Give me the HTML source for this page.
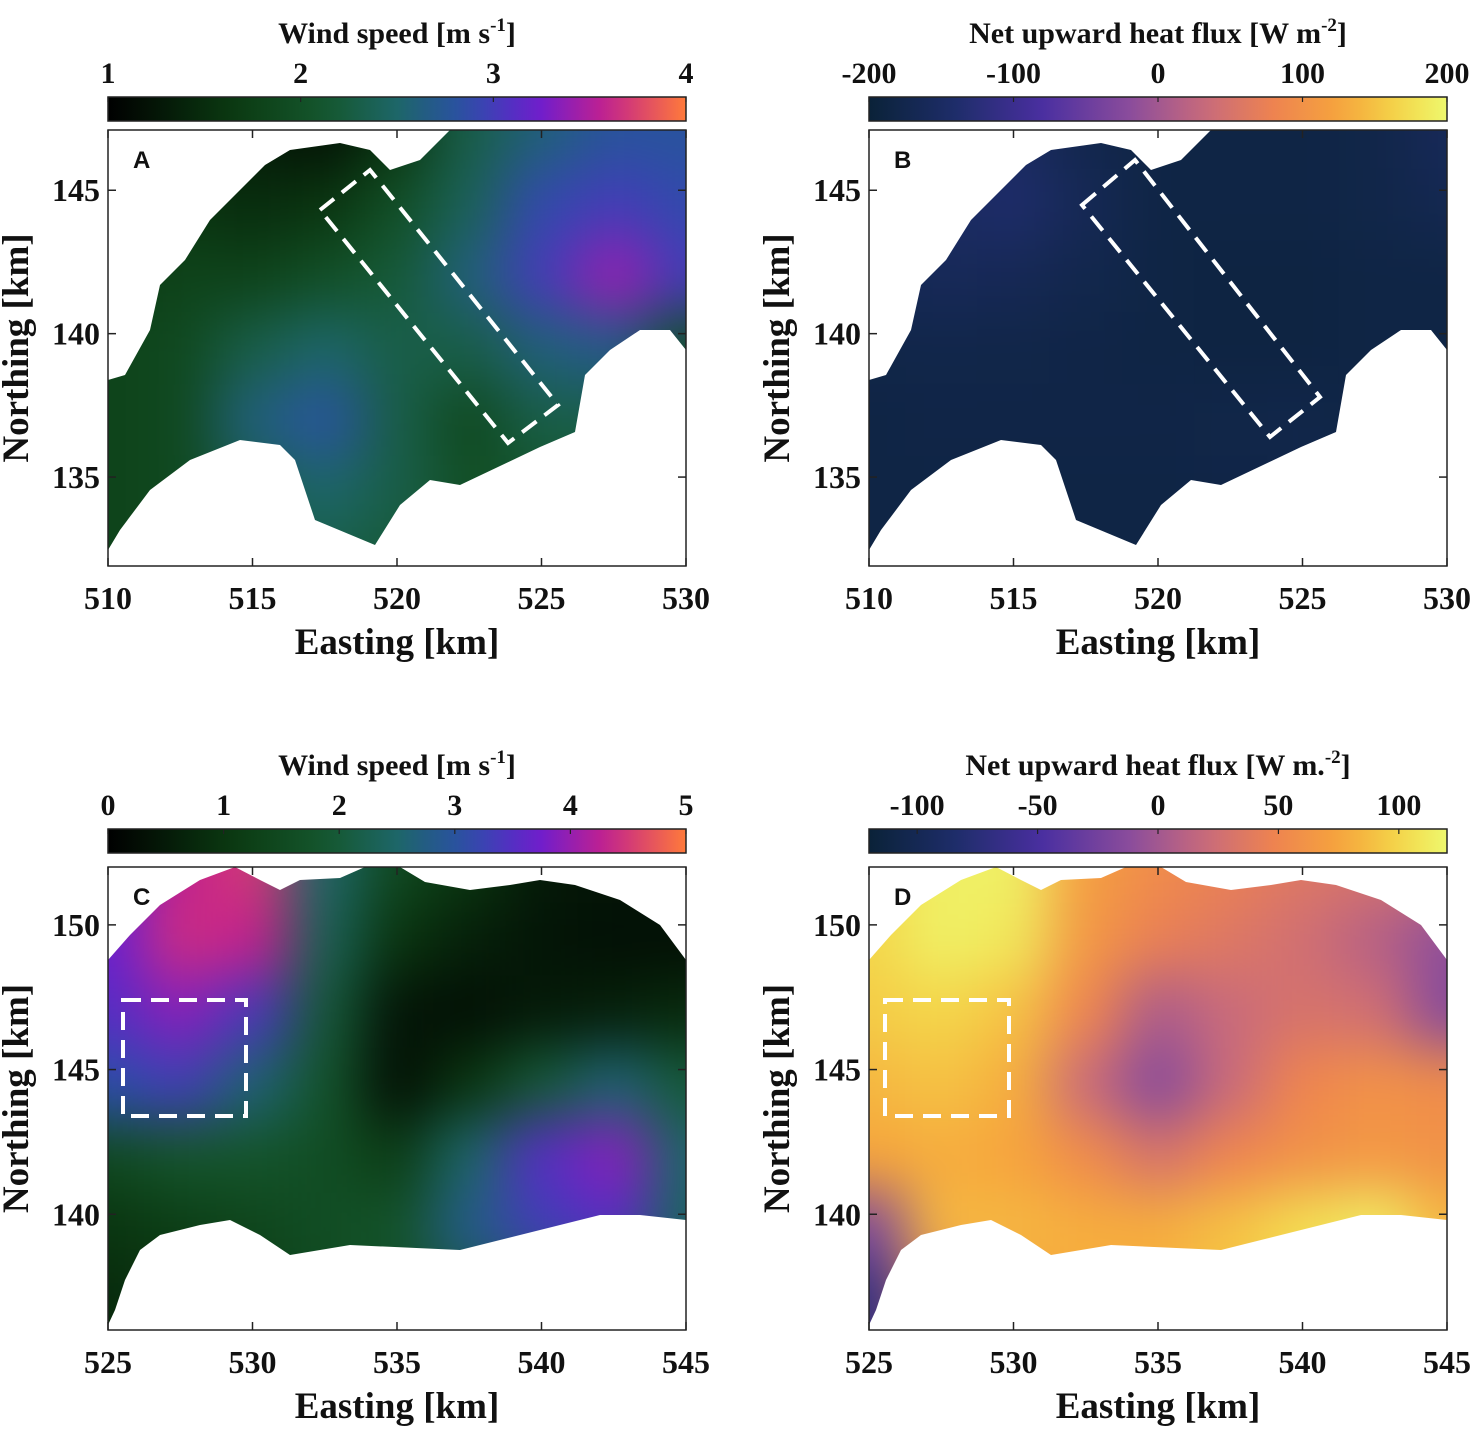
<!DOCTYPE html>
<html><head><meta charset="utf-8">
<style>
body{margin:0;background:#fff;}
svg text{font-family:"Liberation Serif",serif;font-weight:bold;fill:#111;}
</style></head>
<body>
<svg id="fig" width="1476" height="1431" viewBox="0 0 1476 1431" xmlns="http://www.w3.org/2000/svg">
<defs>
<filter id="blur" x="-20%" y="-20%" width="140%" height="140%" color-interpolation-filters="sRGB"><feGaussianBlur stdDeviation="28"/></filter>
</defs>
</svg>
<script>
// ---------- data ----------
const windA = [
 [1.5,1.4,1.3,1.2,1.6,2.3,2.6,2.8,2.8],
 [1.6,1.6,1.5,1.6,2.0,2.4,2.9,3.0,2.9],
 [1.7,1.8,1.8,2.0,2.2,2.6,3.0,3.4,3.0],
 [1.8,1.9,2.3,2.5,2.3,2.3,2.6,2.7,2.0],
 [1.8,1.9,2.6,2.8,2.3,1.9,2.3,2.3,2.0],
 [1.8,1.9,2.3,2.5,2.3,2.0,2.1,2.1,2.0],
 [1.8,1.9,2.2,2.3,2.2,2.0,2.0,2.0,2.0]];
const heatB = [
 [-185,-170,-150,-175,-185,-185,-185,-180,-160],
 [-170,-150,-140,-165,-185,-185,-185,-180,-170],
 [-170,-160,-165,-175,-185,-188,-188,-185,-185],
 [-180,-178,-180,-182,-185,-188,-188,-185,-185],
 [-185,-182,-182,-182,-182,-180,-178,-185,-185],
 [-185,-185,-185,-185,-185,-182,-180,-185,-185],
 [-185,-185,-185,-185,-185,-185,-185,-185,-185]];
const windC = [
 [3.6,4.3,4.5,2.5,1.5,1.0,0.5,0.4,0.4],
 [3.7,4.4,4.3,2.3,1.0,0.6,0.4,0.3,0.3],
 [3.5,3.9,3.4,2.0,0.4,0.3,0.5,0.6,0.8],
 [3.1,3.3,2.6,1.8,0.3,1.0,2.0,2.6,2.0],
 [1.5,1.8,1.8,1.6,1.2,2.5,3.5,3.9,2.5],
 [1.0,1.2,1.4,1.6,1.8,2.8,3.3,3.5,2.4],
 [0.8,1.0,1.2,1.5,1.6,2.0,2.2,2.2,2.0]];
const heatD = [
 [100,115,115,70,55,45,35,30,25],
 [100,115,110,65,45,35,25,10,-10],
 [95,100,90,50,5,20,30,25,-15],
 [85,90,80,20,-15,20,50,60,55],
 [75,80,75,55,30,50,60,65,60],
 [-20,85,85,80,80,90,105,115,85],
 [-70,40,70,80,80,90,100,100,90]];
const ticksA = ["1","2","3","4"];
const ticksB = ["-200","-100","0","100","200"];
const ticksC = ["0","1","2","3","4","5"];
const ticksD = ["-100","-50","0","50","100"];
const xTicksTop = [510,515,520,525,530];
const yTicksTop = [145,140,135];
const xTicksBot = [525,530,535,540,545];
const yTicksBot = [150,145,140];

// ---------- colormaps ----------
const cmWind = [[0,'#000000'],[0.22,'#0b3a12'],[0.38,'#15582e'],[0.5,'#1d6668'],[0.62,'#2b4fa8'],[0.74,'#6a1ed0'],[0.86,'#c2208e'],[1,'#ff7a3a']];
const cmHeat = [[0,'#0a2238'],[0.15,'#1e2d6a'],[0.3,'#4a2fa0'],[0.45,'#8a4c9c'],[0.58,'#c86a7c'],[0.7,'#ee8350'],[0.82,'#f6a63c'],[0.92,'#f4d84a'],[1,'#eef86e']];
function hex(h){return [1,3,5].map(i=>parseInt(h.substr(i,2),16));}
function cmap(cm,t){t=Math.max(0,Math.min(1,t));for(let i=1;i<cm.length;i++){if(t<=cm[i][0]){const a=cm[i-1],b=cm[i];const f=(t-a[0])/(b[0]-a[0]);const ca=hex(a[1]),cb=hex(b[1]);return 'rgb('+ca.map((v,k)=>Math.round(v+(cb[k]-v)*f)).join(',')+')';}}return cm[cm.length-1][1];}

const NS='http://www.w3.org/2000/svg';
const svg=document.getElementById('fig');
function el(tag,attrs,parent){const e=document.createElementNS(NS,tag);for(const k in attrs)e.setAttribute(k,attrs[k]);(parent||svg).appendChild(e);return e;}
function txt(s,x,y,size,anchor,parent){const t=el('text',{x:x,y:y,'font-size':size,'text-anchor':anchor||'middle'},parent);t.textContent=s;return t;}

const shapeTop="108,550 108,380 125,375 150,330 160,285 185,260 210,220 240,190 265,165 290,150 340,143 370,150 390,170 420,160 450,130 686,130 686,350 670,330 640,330 610,350 585,375 575,432 540,447 460,485 430,480 400,505 375,545 315,520 295,460 280,445 240,440 190,460 150,490 120,530";
const shapeBot="108,1325 108,960 130,935 160,905 200,880 235,867 260,880 280,890 300,880 340,878 365,867 400,867 425,882 470,890 510,885 540,880 575,885 620,900 660,925 686,960 686,1220 640,1215 600,1215 560,1225 460,1250 350,1245 290,1255 260,1235 230,1220 200,1225 160,1235 140,1250 125,1280 115,1310";

function panel(o){
  const g=el('g',{});
  
  
  const L=o.left,T=o.top,W=578,H=o.h;
  const xs=v=>L+(v-o.x0)/(o.x1-o.x0)*W;
  const ys=v=>T+(o.y1-v)/(o.y1-o.y0)*H;
  const cid='clip'+o.id;
  const cp=el('clipPath',{id:cid},svg.querySelector('defs'));
  const pts=o.shape.split(' ').map(p=>{const [a,b]=p.split(',').map(Number);return (a+o.dx)+','+(b+o.dy);}).join(' ');
  el('polygon',{points:pts},cp);
  const hg=el('g',{'clip-path':'url(#'+cid+')'},g);
  
  
  const bg=el('g',{filter:'url(#blur)'},hg);
  const nr=o.data.length,nc=o.data[0].length;
  const gx0=o.x0,gx1=o.x1,gy0=o.gy0,gy1=o.gy1;
  for(let r=0;r<nr;r++)for(let c=0;c<nc;c++){
    const xv=gx0+(gx1-gx0)*c/(nc-1), yv=gy1-(gy1-gy0)*r/(nr-1);
    const cx=xs(xv),cy=ys(yv);
    const cw=(xs(gx0+(gx1-gx0)/(nc-1))-xs(gx0)), ch=(ys(gy1-(gy1-gy0)/(nr-1))-ys(gy1));
    let x=cx-cw/2,y=cy-ch/2,w=cw+1,h=ch+1;
    if(c===0){x-=80;w+=80;} if(c===nc-1){w+=80;}
    if(r===0){y-=80;h+=80;} if(r===nr-1){h+=80;}
    const rc=el('rect',{x:x,y:y,width:w,height:h,fill:cmap(o.cm,(o.data[r][c]-o.vmin)/(o.vmax-o.vmin))},bg);
    
    
  }
  el('rect',{x:L,y:T,width:W,height:H,fill:'none',stroke:'#222','stroke-width':1.5},g);
  o.xt.forEach(v=>{const x=xs(v);el('line',{x1:x,y1:T+H,x2:x,y2:T+H-8,stroke:'#222','stroke-width':1.5},g);el('line',{x1:x,y1:T,x2:x,y2:T+8,stroke:'#222','stroke-width':1.5},g);
    const t=txt(String(v),x,T+H+43,32,'middle',g);});
  o.yt.forEach(v=>{const y=ys(v);el('line',{x1:L,y1:y,x2:L+8,y2:y,stroke:'#222','stroke-width':1.5},g);el('line',{x1:L+W,y1:y,x2:L+W-8,y2:y,stroke:'#222','stroke-width':1.5},g);
    const t=txt(String(v),L-8,y+11,32,'end',g);});
  const xl=txt('Easting [km]',L+W/2,T+H+88,37,'middle',g);
  
  const yl=txt('Northing [km]',0,0,37,'middle',g);
  yl.setAttribute('transform','translate('+(L-80)+','+(T+H/2)+') rotate(-90)');
  
  const pl=el('text',{x:L+25,y:T+38,'font-size':24,'text-anchor':'start',style:'font-family:"Liberation Sans",sans-serif;font-weight:bold'},g);
  pl.textContent=o.id;
  const db=el('polygon',{points:o.box,fill:'none',stroke:'#fff','stroke-width':4,'stroke-dasharray':'18,10'},g);
  
  const gid='grad'+o.id;
  const lg=el('linearGradient',{id:gid,x1:0,y1:0,x2:1,y2:0},svg.querySelector('defs'));
  for(let i=0;i<=20;i++)el('stop',{offset:i/20,'stop-color':cmap(o.cm,i/20)},lg);
  const cb=el('g',{},g);
  
  el('rect',{x:L,y:o.cbY,width:W,height:24,fill:'url(#'+gid+')',stroke:'#222','stroke-width':1.5},cb);
  o.ct.forEach((s,i)=>{const x=L+W*(Number(s)-o.vmin)/(o.vmax-o.vmin);
    el('line',{x1:x,y1:o.cbY,x2:x,y2:o.cbY+5,stroke:'#222','stroke-width':1.2},cb);
    const t=txt(s,x,o.cbY-14,30,'middle',cb);});
  const ct=el('text',{x:L+W/2,y:o.cbY-54,'font-size':30,'text-anchor':'middle'},cb);
  ct.innerHTML=o.title;
  
}
panel({id:'A',left:108,top:130,h:436,x0:510,x1:530,y0:131.9,y1:147.1,gy0:132,gy1:147,data:windA,cm:cmWind,vmin:1,vmax:4,ct:ticksA,xt:xTicksTop,yt:yTicksTop,shape:shapeTop,dx:0,dy:0,cbY:97,
  box:"320,210 370,170 558,405 508,443",title:'Wind speed [m s<tspan dy="-12" font-size="19">-1</tspan><tspan dy="12">]</tspan>'});
panel({id:'B',left:869,top:130,h:436,x0:510,x1:530,y0:131.9,y1:147.1,gy0:132,gy1:147,data:heatB,cm:cmHeat,vmin:-200,vmax:200,ct:ticksB,xt:xTicksTop,yt:yTicksTop,shape:shapeTop,dx:761,dy:0,cbY:97,
  box:"1082,205 1135,160 1320,397 1270,437",title:'Net upward heat flux [W m<tspan dy="-12" font-size="19">-2</tspan><tspan dy="12">]</tspan>'});
panel({id:'C',left:108,top:867,h:463,x0:525,x1:545,y0:136,y1:152,gy0:137,gy1:152,data:windC,cm:cmWind,vmin:0,vmax:5,ct:ticksC,xt:xTicksBot,yt:yTicksBot,shape:shapeBot,dx:0,dy:0,cbY:829,
  box:"123,1000 246,1000 246,1116 123,1116",title:'Wind speed [m s<tspan dy="-12" font-size="19">-1</tspan><tspan dy="12">]</tspan>'});
panel({id:'D',left:869,top:867,h:463,x0:525,x1:545,y0:136,y1:152,gy0:137,gy1:152,data:heatD,cm:cmHeat,vmin:-120,vmax:120,ct:ticksD,xt:xTicksBot,yt:yTicksBot,shape:shapeBot,dx:761,dy:0,cbY:829,
  box:"885,1000 1009,1000 1009,1116 885,1116",title:'Net upward heat flux [W m.<tspan dy="-12" font-size="19">-2</tspan><tspan dy="12">]</tspan>'});
</script>
</body></html>
